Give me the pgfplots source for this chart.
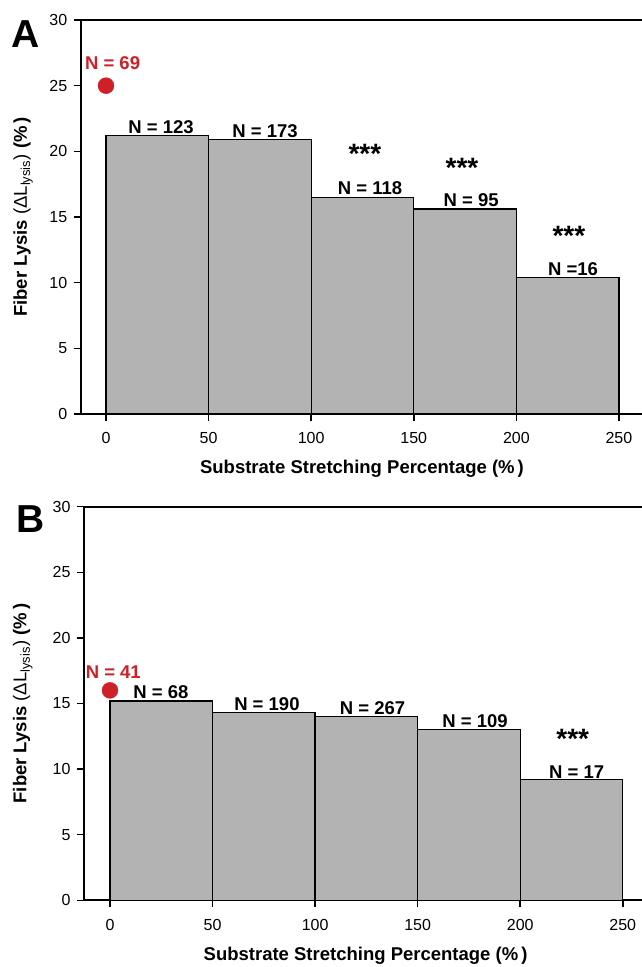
\documentclass[border=0pt]{standalone}
\usepackage{fontspec}
\setmainfont{Liberation Sans}
\usepackage{pgfplots}
\pgfplotsset{compat=1.18}
\definecolor{bargray}{RGB}{179,179,179}
\definecolor{dotred}{RGB}{206,32,38}

\newcommand{\nlab}{\bfseries\fontsize{18.5}{20}\selectfont}
\newcommand{\stars}{\bfseries\fontsize{28}{30}\selectfont}

\pgfplotsset{
  lysis/.style={
    scale only axis, clip=false,
    ymin=0, ymax=30, ytick={0,5,...,30},
    xtick={0,50,...,250},
    tick pos=left, tick align=outside,
    major tick length=7pt,
    axis line style={line width=1.8pt},
    every tick/.style={black, line width=1.5pt},
    tick label style={font=\fontsize{16}{18}\selectfont},
    xticklabel style={yshift=-8pt},
    yticklabel style={xshift=-3pt},
    /pgf/number format/assume math mode=true,
    label style={font=\bfseries\fontsize{18.5}{21}\selectfont},
    xlabel={Substrate Stretching Percentage (\%\,)},
    ylabel={Fiber Lysis {\mdseries(ΔL\textsubscript{lysis})} (\%\,)},
  }
}

\begin{document}
\begin{tikzpicture}
\useasboundingbox (0pt,0pt) rectangle (641pt,967pt);

% panel A
\begin{axis}[lysis,
  at={(80.7pt,553pt)}, anchor=south west,
  width=564.3pt, height=394pt,
  xmin=-12.33, xmax=262.7,
  xlabel style={at={(axis description cs:0.4985,0)}, anchor=center, yshift=-55pt},
  ylabel style={at={(axis description cs:-0.102,0.5)}, anchor=center},
]
\addplot[ybar interval, draw=black, fill=bargray, line width=1.3pt] coordinates {
(0,21.2) (50,20.9) (100,16.5) (150,15.6) (200,10.4) (250,10.4)
};
\addplot[only marks, mark=*, mark size=8pt, color=dotred] coordinates {(0,25)};
\node[anchor=center, text=dotred, font=\nlab] at (axis cs:3.2,26.7) {N = 69};
\node[anchor=south, font=\nlab, inner sep=2pt] at (axis cs:26.8,21.2) {N = 123};
\node[anchor=south, font=\nlab, inner sep=2pt] at (axis cs:77.5,20.9) {N = 173};
\node[anchor=south, font=\nlab, inner sep=2pt] at (axis cs:128.7,16.5) {N = 118};
\node[anchor=south, font=\nlab, inner sep=2pt] at (axis cs:178,15.6) {N = 95};
\node[anchor=south, font=\nlab, inner sep=2pt] at (axis cs:227.6,10.4) {N =16};
\node[anchor=base, font=\stars] at (axis cs:126.2,19.1) {***};
\node[anchor=base, font=\stars] at (axis cs:173.5,18.0) {***};
\node[anchor=base, font=\stars] at (axis cs:225.6,12.8) {***};
\end{axis}

% panel B
\begin{axis}[lysis,
  at={(84pt,66.7pt)}, anchor=south west,
  width=561pt, height=393.6pt,
  xmin=-12.68, xmax=260.85,
  xlabel style={at={(axis description cs:0.502,0)}, anchor=center, yshift=-55pt},
  ylabel style={at={(axis description cs:-0.109,0.5)}, anchor=center},
]
\addplot[ybar interval, draw=black, fill=bargray, line width=1.3pt] coordinates {
(0,15.2) (50,14.3) (100,14.0) (150,13.0) (200,9.2) (250,9.2)
};
\addplot[only marks, mark=*, mark size=8pt, color=dotred] coordinates {(0,16)};
\node[anchor=center, text=dotred, font=\nlab] at (axis cs:1.6,17.42) {N = 41};
\node[anchor=south, font=\nlab, inner sep=2pt] at (axis cs:24.8,15.2) {N = 68};
\node[anchor=south, font=\nlab, inner sep=2pt] at (axis cs:76.5,14.3) {N = 190};
\node[anchor=south, font=\nlab, inner sep=2pt] at (axis cs:128,14.0) {N = 267};
\node[anchor=south, font=\nlab, inner sep=2pt] at (axis cs:178,13.0) {N = 109};
\node[anchor=south, font=\nlab, inner sep=1pt] at (axis cs:227.5,9.2) {N = 17};
\node[anchor=base, font=\stars] at (axis cs:225.6,11.6) {***};
\end{axis}

\node[font=\bfseries\fontsize{39}{40}\selectfont] at (25.8pt,933pt) {A};
\node[font=\bfseries\fontsize{39}{40}\selectfont] at (30.5pt,447.5pt) {B};
\end{tikzpicture}
\end{document}
